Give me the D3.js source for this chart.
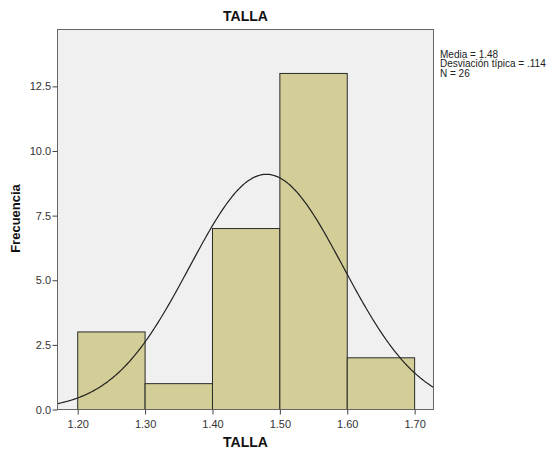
<!DOCTYPE html>
<html><head><meta charset="utf-8">
<script src="https://cdn.jsdelivr.net/npm/d3@7"></script>
<style>body{margin:0;background:#fff;}svg text{font-family:"Liberation Sans",Arial,sans-serif;}</style>
</head><body>
<svg id="c" width="549" height="455"></svg>
<script>
const binStarts = [1.20, 1.30, 1.40, 1.50, 1.60];
const binWidth = 0.1;
const counts = [3, 1, 7, 13, 2];
const xTicks = [1.20, 1.30, 1.40, 1.50, 1.60, 1.70];
const yTicks = [0, 2.5, 5.0, 7.5, 10.0, 12.5];
const stats = {mean: 1.48, sd: 0.114, n: 26};
const legendLines = ["Media = 1.48", "Desviación típica = .114", "N = 26"];

const svg = d3.select("#c");
const L = 57.5, R = 433.5, T = 29.5, B = 409.5;
const x = d3.scaleLinear().domain([1.17, 1.728]).range([L, R]);
const y = d3.scaleLinear().domain([0, 14.7]).range([B, T]);

svg.append("rect").attr("x", L).attr("y", T).attr("width", R - L).attr("height", B - T)
  .attr("fill", "#f0f0f0");

const g = svg.append("g");
g.selectAll("rect.bar").data(counts).enter().append("rect").attr("class", "bar")
  .attr("x", (d, i) => x(binStarts[i]))
  .attr("y", d => y(d))
  .attr("width", (d, i) => x(binStarts[i] + binWidth) - x(binStarts[i]))
  .attr("height", d => y(0) - y(d))
  .attr("fill", "#d3ce97").attr("stroke", "#2a2a2a").attr("stroke-width", 1);

// normal curve from stated mean / sd / N
const pts = d3.range(1.17, 1.7281, 0.002).map(v => [v,
  stats.n * binWidth / (stats.sd * Math.sqrt(2 * Math.PI)) * Math.exp(-0.5 * Math.pow((v - stats.mean) / stats.sd, 2))]);
svg.append("clipPath").attr("id", "cp").append("rect").attr("x", L).attr("y", T).attr("width", R - L).attr("height", B - T);
svg.append("path").datum(pts).attr("clip-path", "url(#cp)")
  .attr("d", d3.line().x(d => x(d[0])).y(d => y(d[1])).curve(d3.curveBasis))
  .attr("fill", "none").attr("stroke", "#222").attr("stroke-width", 1.2);

// frame
svg.append("rect").attr("x", L).attr("y", T).attr("width", R - L).attr("height", B - T)
  .attr("fill", "none").attr("stroke", "#666").attr("stroke-width", 1);

// axes
const xAxis = svg.append("g").attr("transform", `translate(0,${B})`)
  .call(d3.axisBottom(x).tickValues(xTicks).tickFormat(d3.format(".2f")).tickSize(5).tickSizeOuter(0));
const yAxis = svg.append("g").attr("transform", `translate(${L},0)`)
  .call(d3.axisLeft(y).tickValues(yTicks).tickFormat(d3.format(".1f")).tickSize(5).tickSizeOuter(0));
[xAxis, yAxis].forEach(a => {
  a.select(".domain").remove();
  a.selectAll("line").attr("stroke", "#444");
  a.selectAll("text").attr("fill", "#333").attr("font-size", 11).attr("font-family", "'Liberation Sans',Arial,sans-serif");
});
xAxis.selectAll("text").attr("dy", "0.95em");
yAxis.selectAll("text").attr("dx", "0.15em");

// titles
svg.append("text").attr("x", (L + R) / 2).attr("y", 21).attr("text-anchor", "middle")
  .attr("font-size", 14).attr("font-weight", "bold").attr("fill", "#111").text("TALLA");
svg.append("text").attr("x", (L + R) / 2).attr("y", 447).attr("text-anchor", "middle")
  .attr("font-size", 14).attr("font-weight", "bold").attr("fill", "#111").text("TALLA");
svg.append("text").attr("transform", `translate(19.5,${(T + B) / 2 - 1}) rotate(-90)`).attr("text-anchor", "middle")
  .attr("font-size", 13).attr("font-weight", "bold").attr("fill", "#111").text("Frecuencia");

// legend
svg.append("g").selectAll("text").data(legendLines).enter().append("text")
  .attr("x", 440).attr("y", (d, i) => 57.5 + i * 9.6)
  .attr("font-size", 10).attr("fill", "#222").text(d => d);
</script>
</body></html>
